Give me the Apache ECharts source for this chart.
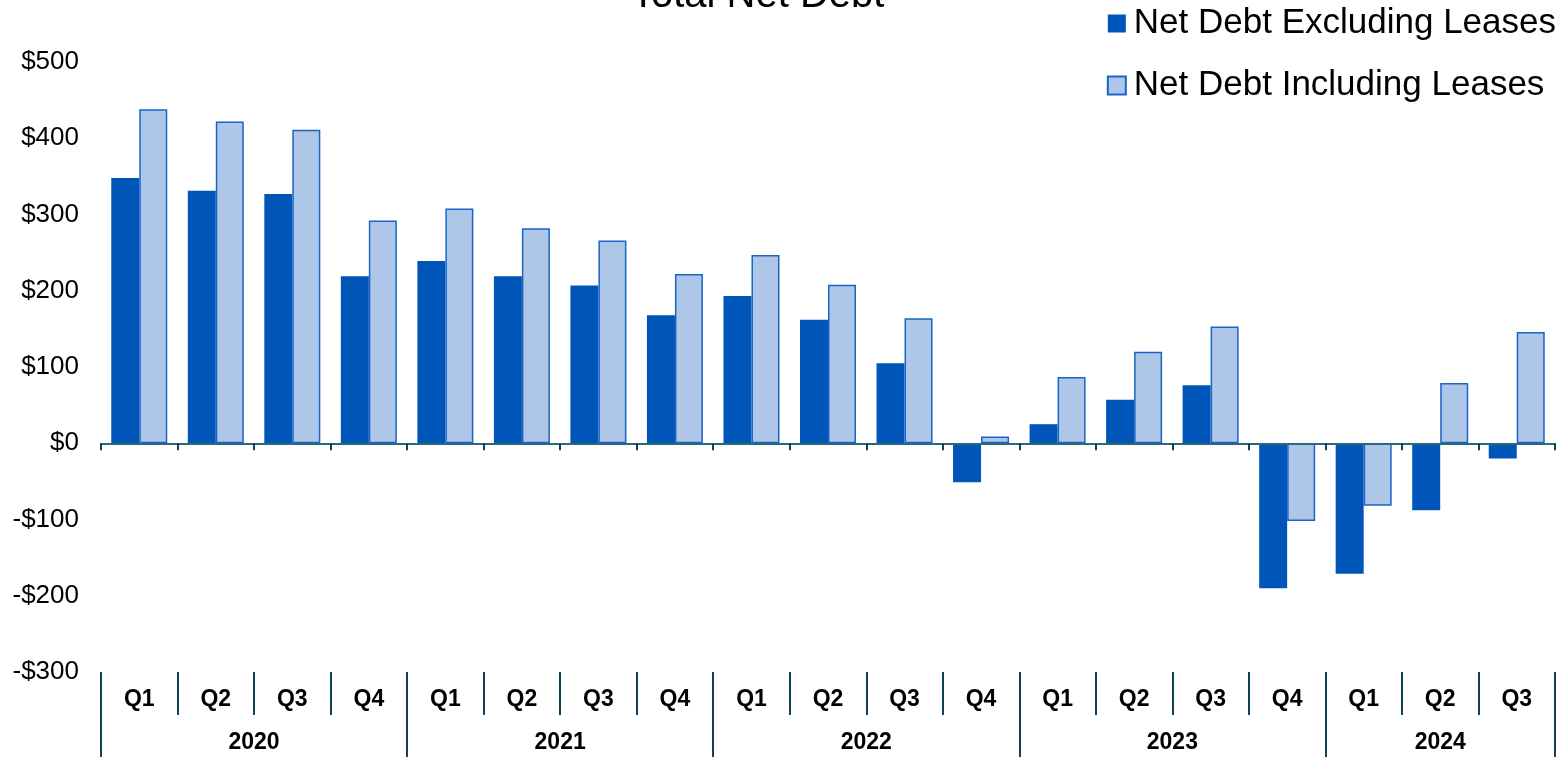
<!DOCTYPE html>
<html>
<head>
<meta charset="utf-8">
<title>Total Net Debt</title>
<script src="https://cdn.jsdelivr.net/npm/echarts@6/dist/echarts.min.js"></script>
<style>
  html, body { margin: 0; padding: 0; background: #fff; }
  #chart { width: 1562px; height: 757px; }
</style>
</head>
<body>
<div id="chart"></div>
<script>
const quarters = ['Q1', 'Q2', 'Q3', 'Q4', 'Q1', 'Q2', 'Q3', 'Q4', 'Q1', 'Q2', 'Q3', 'Q4',
  'Q1', 'Q2', 'Q3', 'Q4', 'Q1', 'Q2', 'Q3'];
const years = ['2020', '2021', '2022', '2023', '2024'];
const quartersPerYear = [4, 4, 4, 4, 3];
const exclLeases = [348, 331, 327, 219, 239, 219, 207, 168, 193, 162, 105, -51, 25, 57, 76, -190, -171, -88, -20];
const inclLeases = [438, 422, 411, 292, 308, 282, 266, 222, 247, 208, 164, 9, 87, 120, 153, -102, -82, 79, 146];
const yTicks = [-300, -200, -100, 0, 100, 200, 300, 400, 500];

const FONT = 'Arial, "Liberation Sans", sans-serif';
const DARK = '#0055b8';
const LIGHT = '#aec7e8';
const AXIS = '#0f4254';

// year axis: points at every half quarter, so a year's middle always lands on a point
const yearSlots = [];
const yearTickIdx = [0];
const yearLabelIdx = {};
let pos = 0;
years.forEach((y, i) => {
  yearLabelIdx[pos + quartersPerYear[i]] = y;
  pos += quartersPerYear[i] * 2;
  yearTickIdx.push(pos);
});
for (let k = 0; k <= pos; k++) yearSlots.push(yearLabelIdx[k] || '');

const chart = echarts.init(document.getElementById('chart'));
chart.setOption({
  animation: false,
  title: {
    text: 'Total Net Debt',
    left: 626,
    top: -29,
    textStyle: { fontFamily: FONT, fontSize: 40, fontWeight: 'normal', color: '#000' }
  },
  legend: {
    orient: 'vertical',
    right: 1,
    top: 1,
    icon: 'rect',
    itemWidth: 18,
    itemHeight: 18,
    itemGap: 27,
    textStyle: { fontFamily: FONT, fontSize: 35, color: '#000', padding: [0, 0, 0, 3] },
    data: ['Net Debt Excluding Leases', 'Net Debt Including Leases']
  },
  grid: { left: 101, right: 7, top: 62, bottom: 85 },
  xAxis: [
    {
      type: 'category',
      data: quarters,
      z: 5,
      axisLine: { onZero: true, lineStyle: { color: '#2d6878', width: 2 } },
      axisTick: { show: true, length: 7, lineStyle: { color: AXIS, width: 2 } },
      axisLabel: { show: false }
    },
    {
      type: 'category',
      data: quarters,
      position: 'bottom',
      axisLine: { show: false, onZero: false },
      axisTick: { show: true, interval: 0, length: 43, lineStyle: { color: AXIS, width: 2 } },
      axisLabel: {
        interval: 0, margin: 16,
        fontFamily: FONT, fontSize: 23, fontWeight: 'bold', color: '#000'
      }
    },
    {
      type: 'category',
      data: yearSlots,
      boundaryGap: false,
      position: 'bottom',
      axisLine: { show: false, onZero: false },
      axisTick: {
        show: true,
        length: 90,
        interval: (idx) => yearTickIdx.includes(idx),
        lineStyle: { color: AXIS, width: 2 }
      },
      axisLabel: {
        interval: (idx, val) => val !== '',
        margin: 59,
        fontFamily: FONT, fontSize: 23, fontWeight: 'bold', color: '#000'
      }
    }
  ],
  yAxis: {
    type: 'value',
    min: yTicks[0],
    max: yTicks[yTicks.length - 1],
    interval: 100,
    splitLine: { show: false },
    axisLine: { show: false },
    axisTick: { show: false },
    axisLabel: {
      margin: 22,
      fontFamily: FONT, fontSize: 26, color: '#000',
      formatter: (v) => (v < 0 ? '-$' + Math.abs(v) : '$' + v)
    }
  },
  series: [
    {
      name: 'Net Debt Excluding Leases',
      type: 'bar',
      data: exclLeases,
      barWidth: 28,
      barGap: '0%',
      itemStyle: { color: DARK }
    },
    {
      name: 'Net Debt Including Leases',
      type: 'bar',
      data: inclLeases,
      barWidth: 28,
      barGap: '0%',
      itemStyle: { color: LIGHT, borderColor: '#1a64c6', borderWidth: 1.5 }
    }
  ]
});
</script>
</body>
</html>
